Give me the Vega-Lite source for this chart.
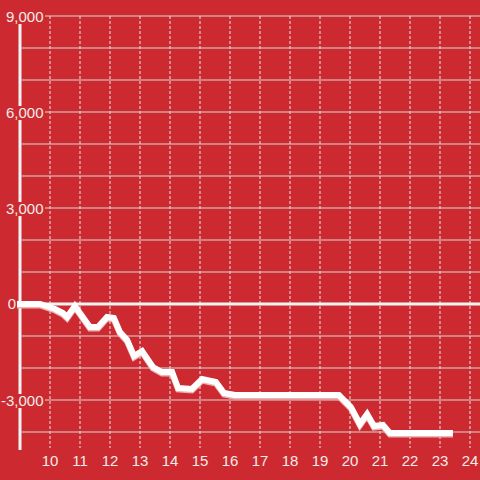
{
  "$schema": "https://vega.github.io/schema/vega-lite/v6.json",
  "width": 480,
  "height": 480,
  "autosize": {"type": "none"},
  "padding": 0,
  "background": "#cc2a30",
  "config": {"view": {"stroke": null}},
  "datasets": {
    "series": [
      {"t": 8.9, "v": 0},
      {"t": 9.67, "v": 0},
      {"t": 10.17, "v": -156},
      {"t": 10.43, "v": -281},
      {"t": 10.57, "v": -406},
      {"t": 10.83, "v": -62},
      {"t": 11.33, "v": -719},
      {"t": 11.6, "v": -719},
      {"t": 11.9, "v": -406},
      {"t": 12.13, "v": -437},
      {"t": 12.33, "v": -875},
      {"t": 12.57, "v": -1125},
      {"t": 12.8, "v": -1625},
      {"t": 13.07, "v": -1469},
      {"t": 13.43, "v": -1969},
      {"t": 13.73, "v": -2125},
      {"t": 14.07, "v": -2125},
      {"t": 14.27, "v": -2625},
      {"t": 14.73, "v": -2656},
      {"t": 15.07, "v": -2344},
      {"t": 15.53, "v": -2437},
      {"t": 15.8, "v": -2781},
      {"t": 16.17, "v": -2844},
      {"t": 19.63, "v": -2844},
      {"t": 20.03, "v": -3219},
      {"t": 20.33, "v": -3750},
      {"t": 20.57, "v": -3437},
      {"t": 20.8, "v": -3812},
      {"t": 21.1, "v": -3781},
      {"t": 21.33, "v": -4031},
      {"t": 23.43, "v": -4031}
    ],
    "hgrid": [
      {"v": -4000}, {"v": -3000}, {"v": -2000}, {"v": -1000},
      {"v": 1000}, {"v": 2000}, {"v": 3000}, {"v": 4000},
      {"v": 5000}, {"v": 6000}, {"v": 7000}, {"v": 8000}, {"v": 9000}
    ],
    "vgrid": [
      {"t": 10}, {"t": 11}, {"t": 12}, {"t": 13}, {"t": 14}, {"t": 15}, {"t": 16},
      {"t": 17}, {"t": 18}, {"t": 19}, {"t": 20}, {"t": 21}, {"t": 22}, {"t": 23}, {"t": 24}
    ],
    "ylabels": [
      {"v": 9000, "label": "9,000"},
      {"v": 6000, "label": "6,000"},
      {"v": 3000, "label": "3,000"},
      {"v": -3000, "label": "-3,000"}
    ]
  },
  "layer": [
    {
      "data": {"name": "hgrid"},
      "mark": {"type": "rule", "color": "#d6d6d6", "strokeWidth": 1},
      "encoding": {
        "y": {"field": "v", "type": "quantitative", "scale": {"domain": [-5500, 9500], "nice": false, "zero": false}, "axis": null},
        "x": {"datum": 9.05, "type": "quantitative", "scale": {"domain": [8.3333, 24.3333], "nice": false, "zero": false}, "axis": null},
        "x2": {"datum": 24.3333}
      }
    },
    {
      "data": {"name": "vgrid"},
      "mark": {"type": "rule", "color": "#e6e6e6", "strokeWidth": 1, "strokeDash": [3, 2]},
      "encoding": {
        "x": {"field": "t", "type": "quantitative", "axis": null},
        "y": {"datum": 9000, "type": "quantitative", "axis": null},
        "y2": {"datum": -4500}
      }
    },
    {
      "data": {"values": [{"a": 1}]},
      "mark": {"type": "rule", "color": "#f4f4f4", "strokeWidth": 3},
      "encoding": {
        "x": {"datum": 9.0, "type": "quantitative", "axis": null},
        "y": {"datum": 9000, "type": "quantitative", "axis": null},
        "y2": {"datum": -4560}
      }
    },
    {
      "data": {"values": [{"a": 1}]},
      "mark": {"type": "rule", "color": "#f4f4f4", "strokeWidth": 3},
      "encoding": {
        "y": {"datum": 0, "type": "quantitative", "axis": null},
        "x": {"datum": 8.9, "type": "quantitative", "axis": null},
        "x2": {"datum": 24.3333}
      }
    },
    {
      "data": {"name": "series"},
      "mark": {"type": "line", "color": "#eeb4b4", "strokeWidth": 6, "yOffset": 1.5},
      "encoding": {
        "x": {"field": "t", "type": "quantitative", "axis": null},
        "y": {"field": "v", "type": "quantitative", "axis": null}
      }
    },
    {
      "data": {"name": "series"},
      "mark": {"type": "line", "color": "#ffffff", "strokeWidth": 6},
      "encoding": {
        "x": {"field": "t", "type": "quantitative", "axis": null},
        "y": {"field": "v", "type": "quantitative", "axis": null}
      }
    },
    {
      "data": {"name": "ylabels"},
      "transform": [
        {"calculate": "datum.v - 250", "as": "lo"},
        {"calculate": "datum.v + 190", "as": "hi"}
      ],
      "mark": {"type": "rect", "color": "#cc2a30"},
      "encoding": {
        "x": {"datum": 8.467, "type": "quantitative", "axis": null},
        "x2": {"datum": 9.833},
        "y": {"field": "lo", "type": "quantitative", "axis": null},
        "y2": {"field": "hi"}
      }
    },
    {
      "data": {"name": "ylabels"},
      "transform": [{"calculate": "datum.v - 190", "as": "ly"}],
      "mark": {"type": "text", "align": "right", "baseline": "alphabetic", "font": "Liberation Sans", "fontSize": 15, "color": "#f3eaea"},
      "encoding": {
        "x": {"datum": 9.783, "type": "quantitative", "axis": null},
        "y": {"field": "ly", "type": "quantitative", "axis": null},
        "text": {"field": "label"}
      }
    },
    {
      "data": {"values": [{"label": "0"}]},
      "mark": {"type": "text", "align": "right", "baseline": "alphabetic", "font": "Liberation Sans", "fontSize": 15, "color": "#f3eaea"},
      "encoding": {
        "x": {"datum": 8.867, "type": "quantitative", "axis": null},
        "y": {"datum": -160, "type": "quantitative", "axis": null},
        "text": {"field": "label"}
      }
    },
    {
      "data": {"name": "vgrid"},
      "mark": {"type": "text", "align": "center", "baseline": "alphabetic", "font": "Liberation Sans", "fontSize": 15, "color": "#f3eaea"},
      "encoding": {
        "x": {"field": "t", "type": "quantitative", "axis": null},
        "y": {"datum": -5060, "type": "quantitative", "axis": null},
        "text": {"field": "t", "type": "quantitative"}
      }
    }
  ]
}
